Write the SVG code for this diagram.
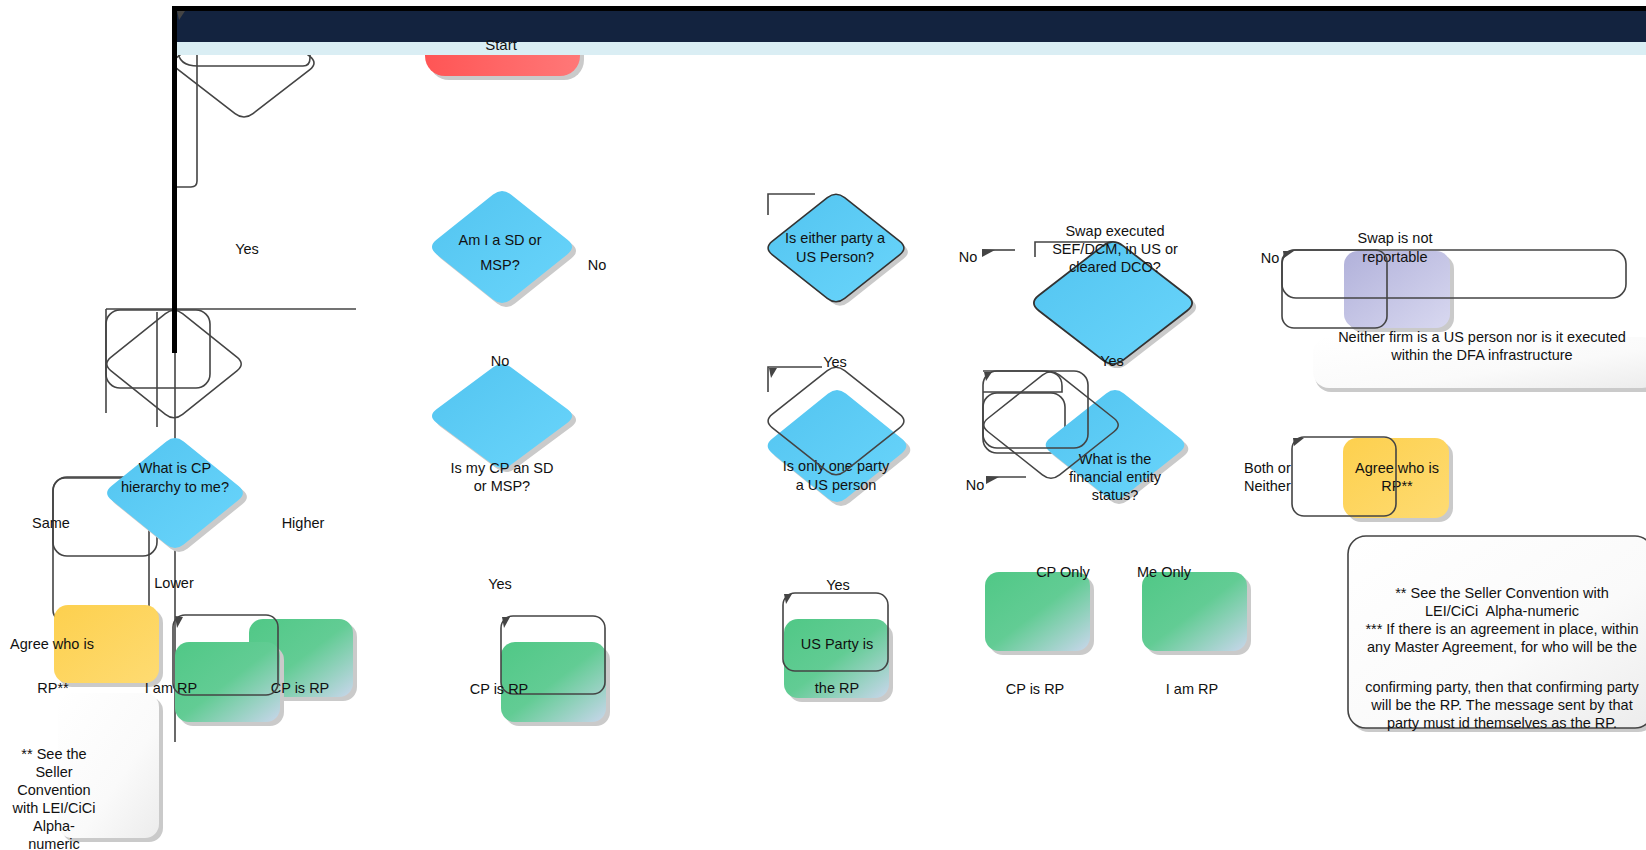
<svg xmlns="http://www.w3.org/2000/svg" xmlns:xlink="http://www.w3.org/1999/xlink" width="1646" height="850" viewBox="0 0 1646 850">
<style>
text{font-family:"Liberation Sans",Arial,sans-serif;font-size:14.5px;fill:#111;text-anchor:middle}
.st{text-anchor:start}
.ol{fill:none;stroke:#444;stroke-width:1.6}
.ln{fill:none;stroke:#444;stroke-width:1.6}
.sh{fill:#cacaca}
.ar{fill:#444}
.blue{fill:url(#gBlue)}
.green{fill:url(#gGreen)}
.yel{fill:url(#gYel)}
</style>
<defs>
<linearGradient id="gBlue" x1="0" y1="0" x2="1" y2="1"><stop offset="0" stop-color="#52c4f0"/><stop offset="1" stop-color="#6ad5fb"/></linearGradient>
<linearGradient id="gGreen" x1="0" y1="0" x2="1" y2="1"><stop offset="0" stop-color="#50c886"/><stop offset="0.5" stop-color="#62cc94"/><stop offset="1" stop-color="#c9d6ec"/></linearGradient>
<linearGradient id="gYel" x1="0" y1="0" x2="1" y2="1"><stop offset="0" stop-color="#fdd04e"/><stop offset="1" stop-color="#fedb72"/></linearGradient>
<linearGradient id="gRed" x1="0" y1="0" x2="1" y2="0"><stop offset="0" stop-color="#ff5555"/><stop offset="1" stop-color="#ff7878"/></linearGradient>
<linearGradient id="gLav" x1="0" y1="0" x2="1" y2="1"><stop offset="0" stop-color="#b1b1da"/><stop offset="1" stop-color="#d8d8f0"/></linearGradient>
<linearGradient id="gNote" x1="0" y1="0" x2="1" y2="1"><stop offset="0" stop-color="#ffffff"/><stop offset="0.6" stop-color="#fafafa"/><stop offset="1" stop-color="#ececec"/></linearGradient>
<path id="dia" d="M-8.94,-52.46 Q0,-59.58 8.94,-52.46 L65.54,-7.13 Q74.48,0 65.54,7.13 L8.94,52.46 Q0,59.58 -8.94,52.46 L-65.54,7.13 Q-74.48,0 -65.54,-7.13 Z"/>
</defs>
<rect width="1646" height="850" fill="#fff"/>

<!-- background outline shapes (under nodes) -->
<g id="outlines-under">
<path class="ol" d="M178,40 V50 Q178,66 198,66 H303 Q310,66 310,58 V40"/>
<use href="#dia" class="ol" vector-effect="non-scaling-stroke" transform="translate(244,63) scale(1.0,0.965)"/>
<path class="ol" d="M197,40 V181 Q197,187 191,187 H177"/>
<rect class="ol" x="53" y="477" width="104" height="79" rx="14"/>
<rect class="ol" x="53" y="478" width="96" height="144" rx="12"/>
<rect class="ol" x="983" y="393" width="82" height="60" rx="14"/>
</g>

<g id="start">
<rect class="sh" x="429" y="20" width="155" height="60" rx="20"/>
<rect x="425" y="16" width="155" height="60" rx="20" fill="url(#gRed)"/>
</g>

<g id="top-bar">
<rect x="172" y="6" width="1474" height="5" fill="#000"/>
<rect x="177" y="11" width="1469" height="31" fill="#13233f"/>
<rect x="177" y="42" width="1469" height="13" fill="#daeef4"/>
<text x="501" y="50" style="font-size:15px">Start</text>
</g>

<g id="connectors">
<line class="ln" x1="175" y1="300" x2="175" y2="742"/>
<line class="ln" x1="106" y1="309" x2="356" y2="309"/>
<line class="ln" x1="106" y1="309" x2="106" y2="413"/>
<line class="ln" x1="157" y1="312" x2="157" y2="427"/>
<path class="ln" d="M768,215 V194 H815"/>
<path class="ln" d="M1035,257 V242 H1113"/>
<path class="ln" d="M768,392 V367 H822"/>
<line class="ln" x1="983" y1="250" x2="1015" y2="250"/>
<line class="ln" x1="987" y1="477" x2="1026" y2="477"/>
</g>

<g id="n-cp-hierarchy">
<use href="#dia" class="sh" transform="translate(179,497) scale(0.97,0.98)"/>
<use href="#dia" class="blue" transform="translate(175,493) scale(0.97,0.98)"/>
<text x="175" y="473">What is CP</text>
<text x="175" y="492">hierarchy to me?</text>
</g>

<g id="n-am-i-sd">
<use href="#dia" class="sh" transform="translate(506,251)"/>
<use href="#dia" class="blue" transform="translate(502,247)"/>
<text x="500" y="245">Am I a SD or</text>
<text x="500" y="270">MSP?</text>
</g>

<g id="n-is-my-cp">
<use href="#dia" class="sh" transform="translate(506,420) scale(1,0.93)"/>
<use href="#dia" class="blue" transform="translate(502,416) scale(1,0.93)"/>
<text x="502" y="473">Is my CP an SD</text>
<text x="502" y="491">or MSP?</text>
</g>

<g id="n-either-us">
<use href="#dia" class="sh" transform="translate(840,252) scale(0.97,0.96)"/>
<use href="#dia" class="blue" stroke="#333" stroke-width="1.6" vector-effect="non-scaling-stroke" transform="translate(836,248) scale(0.97,0.96)"/>
<text x="835" y="243">Is either party a</text>
<text x="835" y="262">US Person?</text>
</g>

<g id="n-swap-exec">
<use href="#dia" class="sh" transform="translate(1117,307) scale(1.13,1.09)"/>
<use href="#dia" class="blue" stroke="#333" stroke-width="1.6" vector-effect="non-scaling-stroke" transform="translate(1113,303) scale(1.13,1.09)"/>
<text x="1115" y="236">Swap executed</text>
<text x="1115" y="254">SEF/DCM, in US or</text>
<text x="1115" y="272">cleared DCO?</text>
</g>

<g id="n-only-one">
<use href="#dia" class="sh" transform="translate(841,450) scale(0.99,1)"/>
<use href="#dia" class="blue" transform="translate(837,446) scale(0.99,1)"/>
<text x="836" y="471">Is only one party</text>
<text x="836" y="490">a US person</text>
</g>

<g id="n-fin-status">
<use href="#dia" class="sh" transform="translate(1119,449) scale(0.99,0.98)"/>
<use href="#dia" class="blue" transform="translate(1115,445) scale(0.99,0.98)"/>
<text x="1115" y="464">What is the</text>
<text x="1115" y="482">financial entity</text>
<text x="1115" y="500">status?</text>
</g>

<g id="n-agree-left">
<rect class="sh" x="58" y="609" width="105" height="78" rx="14"/>
<rect class="yel" x="54" y="605" width="105" height="78" rx="14"/>
<text x="52" y="649">Agree who is</text>
<text x="53" y="693">RP**</text>
</g>

<g id="n-note-left">
<rect class="sh" x="62" y="697" width="101" height="145" rx="14"/>
<rect x="58" y="693" width="101" height="145" rx="14" fill="url(#gNote)"/>
<text x="54" y="759">** See the</text>
<text x="54" y="777">Seller</text>
<text x="54" y="795">Convention</text>
<text x="54" y="813">with LEI/CiCi</text>
<text x="54" y="831">Alpha-</text>
<text x="54" y="849">numeric</text>
</g>

<g id="n-cp-rp-1">
<rect class="sh" x="253" y="623" width="104" height="78" rx="14"/>
<rect class="green" x="249" y="619" width="104" height="78" rx="14"/>
</g>
<g id="n-i-am-rp-1">
<rect class="sh" x="179" y="646" width="105" height="80" rx="14"/>
<rect class="green" x="175" y="642" width="105" height="80" rx="14"/>
<text x="171" y="693">I am RP</text>
</g>
<g id="n-cp-rp-1-label"><text x="300" y="693">CP is RP</text></g>

<g id="n-cp-rp-2">
<rect class="sh" x="505" y="646" width="105" height="80" rx="14"/>
<rect class="green" x="501" y="642" width="105" height="80" rx="14"/>
</g>

<g id="n-us-party">
<rect class="sh" x="788" y="623" width="105" height="79" rx="14"/>
<rect class="green" x="784" y="619" width="105" height="79" rx="14"/>
</g>

<g id="n-cp-only">
<rect class="sh" x="989" y="576" width="105" height="79" rx="14"/>
<rect class="green" x="985" y="572" width="105" height="79" rx="14"/>
<text x="1035" y="694">CP is RP</text>
</g>

<g id="n-me-only">
<rect class="sh" x="1146" y="576" width="105" height="79" rx="14"/>
<rect class="green" x="1142" y="572" width="105" height="79" rx="14"/>
<text x="1192" y="694">I am RP</text>
</g>

<g id="n-not-reportable">
<rect class="sh" x="1348" y="255" width="106" height="77" rx="14"/>
<rect x="1344" y="251" width="106" height="77" rx="14" fill="url(#gLav)"/>
<text x="1395" y="243">Swap is not</text>
<text x="1395" y="262">reportable</text>
</g>

<g id="n-neither-note">
<rect class="sh" x="1315" y="341" width="345" height="51" rx="16"/>
<rect x="1313" y="337" width="345" height="51" rx="16" fill="url(#gNote)"/>
<text x="1482" y="342">Neither firm is a US person nor is it executed</text>
<text x="1482" y="360">within the DFA infrastructure</text>
</g>

<g id="n-agree-right">
<rect class="sh" x="1347" y="442" width="106" height="80" rx="14"/>
<rect class="yel" x="1343" y="438" width="106" height="80" rx="14"/>
<text x="1397" y="473">Agree who is</text>
<text x="1397" y="491">RP**</text>
</g>

<g id="n-note-right">
<rect class="sh" x="1351" y="540" width="305" height="192" rx="18"/>
<rect x="1348" y="536" width="305" height="192" rx="18" fill="url(#gNote)" stroke="#444" stroke-width="1.6"/>
<text x="1502" y="598">** See the Seller Convention with</text>
<text x="1502" y="616" xml:space="preserve">LEI/CiCi  Alpha-numeric</text>
<text x="1502" y="634">*** If there is an agreement in place, within</text>
<text x="1502" y="652">any Master Agreement, for who will be the</text>
<text x="1502" y="692">confirming party, then that confirming party</text>
<text x="1502" y="710">will be the RP. The message sent by that</text>
<text x="1502" y="728">party must id themselves as the RP.</text>
</g>

<g id="outlines-over">
<rect class="ol" x="106" y="310" width="104" height="78" rx="14"/>
<use href="#dia" class="ol" vector-effect="non-scaling-stroke" transform="translate(174,364) scale(0.96,0.96)"/>
<rect class="ol" x="173" y="615" width="105" height="80" rx="12"/>
<rect class="ol" x="501" y="616" width="104" height="78" rx="12"/>
<rect class="ol" x="783" y="593" width="105" height="78" rx="12"/>
<use href="#dia" class="ol" vector-effect="non-scaling-stroke" transform="translate(836,421) scale(0.97,0.96)"/>
<rect class="ol" x="983" y="371" width="105" height="77" rx="14"/>
<path class="ol" d="M983,371 H1042 Q1062,371 1062,386 V392 H983"/>
<use href="#dia" class="ol" vector-effect="non-scaling-stroke" transform="translate(1051,425) scale(0.96,0.95)"/>
<rect class="ol" x="1282" y="250" width="344" height="48" rx="14"/>
<rect class="ol" x="1282" y="250" width="105" height="78" rx="12"/>
<rect class="ol" x="1292" y="437" width="104" height="79" rx="12"/>
</g>

<g id="arrowheads">
<polygon class="ar" points="177,11 185,11 179,20"/>
<polygon class="ar" points="175,616 183,617 177,628"/>
<polygon class="ar" points="502,617 510,617 504,628"/>
<polygon class="ar" points="784,594 792,594 786,604"/>
<polygon class="ar" points="769,368 777,368 771,378"/>
<polygon class="ar" points="984,372 992,372 986,381"/>
<polygon class="ar" points="982,249 995,250 982,257"/>
<polygon class="ar" points="986,476 999,477 986,484"/>
<polygon class="ar" points="1283,251 1294,251 1284,258"/>
<polygon class="ar" points="1293,438 1304,438 1294,446"/>
</g>

<g id="thick-connector">
<line x1="174.5" y1="6" x2="174.5" y2="353" stroke="#000" stroke-width="5"/>
</g>

<g id="labels">
<text x="247" y="254">Yes</text>
<text x="597" y="270">No</text>
<text x="500" y="366">No</text>
<text x="51" y="528">Same</text>
<text x="303" y="528">Higher</text>
<text x="174" y="588">Lower</text>
<text x="499" y="694">CP is RP</text>
<text x="500" y="589">Yes</text>
<text x="838" y="590">Yes</text>
<text x="837" y="649">US Party is</text>
<text x="837" y="693">the RP</text>
<text x="968" y="262">No</text>
<text x="1112" y="366">Yes</text>
<text x="835" y="367">Yes</text>
<text x="975" y="490">No</text>
<text x="1063" y="577">CP Only</text>
<text x="1164" y="577">Me Only</text>
<text x="1270" y="263">No</text>
<text class="st" x="1244" y="473">Both or</text>
<text class="st" x="1244" y="491">Neither</text>
</g>
</svg>
